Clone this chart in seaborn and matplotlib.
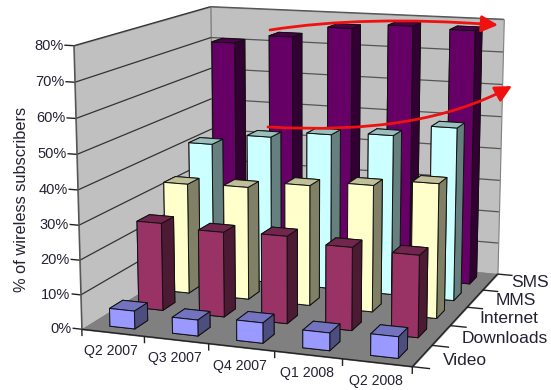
import numpy as np
import matplotlib
matplotlib.use("Agg")
import matplotlib.pyplot as plt
import seaborn as sns
from matplotlib.patches import FancyArrowPatch
from matplotlib.path import Path
from mpl_toolkits.mplot3d import proj3d
from mpl_toolkits.mplot3d.art3d import Poly3DCollection

quarters = ["Q2 2007", "Q3 2007", "Q4 2007", "Q1 2008", "Q2 2008"]
services = ["Video", "Downloads", "Internet", "MMS", "SMS"]
video = [5.2, 4.6, 5.8, 5, 6]
downloads = [26, 25, 25.5, 24, 23.5]
internet = [33.5, 34, 36, 37.5, 39.5]
mms = [42, 45.5, 47.5, 48.5, 52]
sms = [70.7, 73.5, 77, 78.5, 78]
percent_ticks = [0, 10, 20, 30, 40, 50, 60, 70, 80]

front_colors = ["#9999FF", "#993366", "#FFFFCC", "#CCFFFF", "#660066"]

sns.set_theme(style="white")
plt.rcParams["font.family"] = ["Liberation Sans", "DejaVu Sans"]
TEXT = "#222233"
W, H = 551, 390

fig = plt.figure(figsize=(W / 100, H / 100), dpi=100)
ax = fig.add_axes([18.3 / W, -0.2 + 16.1 / H, 1, W / H], projection="3d",
                  computed_zorder=False)
ax.set_axis_off()
ax.view_init(elev=12.109, azim=-70.236)
ax.set_proj_type("persp", focal_length=0.5774)
x_hi, y_hi, z_hi = 5.77984, 2.8298, 88.98865
ax.set_xlim(0, x_hi, view_margin=0)
ax.set_ylim(0, y_hi, view_margin=0)
ax.set_zlim(0, z_hi, view_margin=0)
ax.set_box_aspect((x_hi, 0.99305 * y_hi, 0.05198 * z_hi), zoom=0.96388)
fig.canvas.draw()

n = 5
top = percent_ticks[-1]


def panel(corners, color):
    poly = Poly3DCollection([corners], facecolor=color, edgecolor="#808080",
                            linewidth=0.8, zorder=1)
    ax.add_collection3d(poly)
    poly.set_clip_on(False)


def seg(a, b, color="#333333", lw=0.9, z=2):
    line, = ax.plot([a[0], b[0]], [a[1], b[1]], [a[2], b[2]], color=color, lw=lw,
                    zorder=z, solid_capstyle="butt")
    line.set_clip_on(False)


def label(x, y, z, s, dx=0, dy=0, **kw):
    """Place flat text at a projected 3D location, nudged by dx, dy pixels."""
    px, py, _ = proj3d.proj_transform(x, y, z, ax.get_proj())
    dsp = ax.transData.transform((px, py))
    fig.text((dsp[0] + dx) / W, (dsp[1] - dy) / H, s, color=TEXT, **kw)


# walls and floor
panel([(0, 0, 0), (0, n, 0), (0, n, top), (0, 0, top)], "#C0C0C0")
panel([(0, n, 0), (n, n, 0), (n, n, top), (0, n, top)], "#C0C0C0")
panel([(0, 0, 0), (n, 0, 0), (n, n, 0), (0, n, 0)], "#808080")

# gridlines and percentage axis
for v in percent_ticks:
    if v > 0:
        seg((0, 0, v), (0, n, v), color="#333333")
        seg((0, n, v), (n, n, v), color="#555555")
    seg((0, 0, v), (-0.15, 0, v), color="#222222", lw=1.0)
    label(0, 0, v, f"{v}%", dx=-10.5, ha="right", va="center", fontsize=10.5)
seg((0, 0, 0), (0, 0, top), color="#555555", lw=1.0)
seg((0, 0, 0), (n, 0, 0), color="#222222", lw=1.0)
seg((n, 0, 0), (n, n, 0), color="#222222", lw=1.0)

# tick marks and labels on the floor edges
for i in range(n + 1):
    seg((i, 0, 0), (i, 0, -2), color="#222222", lw=1.0)
    seg((n, i, 0), (n + 0.25, i, 0), color="#222222", lw=1.0)
for i, q in enumerate(quarters):
    label(i + 0.6, 0, 0, q, dx=-8, dy=17.5, ha="center", va="center", fontsize=10.2)
for i, s in enumerate(services):
    label(n + 0.32, i * 1.04 + 0.4, 0, s, ha="left", va="center", fontsize=12.5)

# bars, drawn from the back row to the front row
table = [video, downloads, internet, mms, sms]
width, depth = 0.40, 0.45
x_inset = (1 - width) / 2 + 0.02
for row in range(n - 1, -1, -1):
    base = np.array(matplotlib.colors.to_rgb(front_colors[row]))
    faces = [base * 0.75, base * 0.75, base, base, base * 0.5, base * 0.5]
    for col in range(n):
        ax.bar3d(col + x_inset, row + (1 - depth) / 2, 0, width, depth,
                 table[row][col], color=faces, shade=False, edgecolor="#111111",
                 linewidth=0.7, zorder=5 + (n - row) * 10 + col)

fig.text(22 / W, 1 - 199 / H, "% of wireless subscribers", rotation=90,
         ha="center", va="center", fontsize=11.8, color=TEXT)


def arrow(points):
    pts = [(x / W, 1 - y / H) for x, y in points]
    path = Path(pts, [Path.MOVETO, Path.CURVE3, Path.CURVE3])
    fig.add_artist(FancyArrowPatch(path=path,
                                   arrowstyle="-|>,head_length=0.5,head_width=0.25",
                                   mutation_scale=20, color="#F01010", lw=2, shrinkA=0,
                                   shrinkB=0, transform=fig.transFigure, zorder=30))


arrow([(270, 30), (365, 15), (498, 25)])
arrow([(268, 127), (420, 136), (512, 86)])

fig.savefig("out.png", dpi=100)
